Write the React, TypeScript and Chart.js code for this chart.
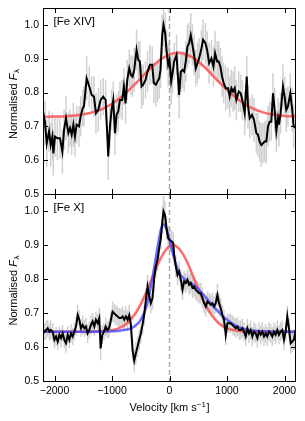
import React, { useEffect, useRef } from "react";
import { Chart, registerables } from "chart.js";
Chart.register(...registerables);

const FONT = "'Liberation Sans', Arial, Helvetica, sans-serif";

// ---------- Top panel: [Fe XIV] ----------
const V1 = [
  -2199, -2164, -2135, -2095, -2066, -2037, -2020, -1991, -1950, -1904,
  -1863, -1834, -1800, -1759, -1730, -1701, -1672, -1644, -1615, -1574,
  -1545, -1510, -1487, -1441, -1395, -1354, -1314, -1279, -1238, -1198,
  -1152, -1111, -1065, -1036, -1007, -978, -949, -920, -891, -862,
  -822, -793, -764, -735, -700, -671, -642, -613, -573, -544,
  -515, -486, -457, -417, -382, -341, -301, -272, -237, -208,
  -179, -156, -127, -104, -75, -52, -23, 0, 29, 52,
  81, 122, 145, 168, 197, 226, 255, 284, 312, 341,
  370, 399, 428, 457, 486, 515, 556, 584, 625, 654,
  689, 729, 764, 793, 828, 856, 885, 914, 943, 978,
  1019, 1047, 1076, 1105, 1134, 1163, 1204, 1238, 1267, 1308,
  1343, 1366, 1395, 1435, 1470, 1510, 1539, 1568, 1597, 1626,
  1655, 1684, 1713, 1742, 1771, 1800, 1829, 1858, 1887, 1904,
  1933, 1973, 2002, 2031, 2060, 2101, 2135, 2159, 2193,
];
const F1 = [
  0.744, 0.71, 0.65, 0.685, 0.645, 0.67, 0.62, 0.67, 0.665, 0.665,
  0.625, 0.69, 0.724, 0.68, 0.695, 0.675, 0.705, 0.67, 0.705, 0.7,
  0.73, 0.754, 0.76, 0.842, 0.818, 0.793, 0.788, 0.739, 0.749, 0.778,
  0.788, 0.778, 0.611, 0.7, 0.749, 0.778, 0.68, 0.734, 0.744, 0.778,
  0.778, 0.818, 0.768, 0.837, 0.872, 0.852, 0.847, 0.867, 0.926, 0.897,
  0.892, 0.818, 0.823, 0.837, 0.862, 0.882, 0.882, 0.828, 0.823, 0.833,
  0.842, 0.867, 0.97, 1.0, 0.975, 0.926, 0.882, 0.897, 0.833, 0.857,
  0.892, 0.911, 0.852, 0.793, 0.862, 0.867, 0.862, 0.892, 0.936, 0.946,
  0.97, 0.941, 0.911, 0.872, 0.887, 0.901, 0.931, 0.956, 0.946, 0.926,
  0.887, 0.901, 0.877, 0.916, 0.892, 0.892, 0.877, 0.847, 0.828, 0.813,
  0.813, 0.788, 0.813, 0.803, 0.813, 0.778, 0.803, 0.798, 0.778, 0.739,
  0.847, 0.759, 0.724, 0.734, 0.719, 0.68, 0.675, 0.655, 0.645, 0.65,
  0.655, 0.655, 0.7, 0.714, 0.714, 0.798, 0.749, 0.685, 0.724, 0.705,
  0.739, 0.818, 0.788, 0.749, 0.759, 0.798, 0.749, 0.7, 0.695,
];
const E1 = [
  0.06, 0.065, 0.07, 0.06, 0.065, 0.07, 0.065, 0.06, 0.065, 0.06,
  0.065, 0.06, 0.065, 0.06, 0.055, 0.06, 0.065, 0.06, 0.055, 0.06,
  0.06, 0.055, 0.06, 0.065, 0.06, 0.055, 0.06, 0.06, 0.065, 0.06,
  0.055, 0.06, 0.07, 0.065, 0.06, 0.055, 0.065, 0.06, 0.06, 0.055,
  0.06, 0.055, 0.06, 0.06, 0.055, 0.06, 0.06, 0.065, 0.06, 0.055,
  0.06, 0.065, 0.06, 0.055, 0.06, 0.06, 0.055, 0.06, 0.065, 0.06,
  0.06, 0.055, 0.06, 0.065, 0.06, 0.06, 0.065, 0.06, 0.07, 0.06,
  0.055, 0.06, 0.065, 0.07, 0.06, 0.055, 0.06, 0.06, 0.065, 0.06,
  0.065, 0.06, 0.06, 0.055, 0.06, 0.06, 0.055, 0.06, 0.06, 0.055,
  0.06, 0.055, 0.06, 0.065, 0.06, 0.06, 0.055, 0.06, 0.06, 0.065,
  0.06, 0.06, 0.055, 0.06, 0.065, 0.06, 0.06, 0.055, 0.06, 0.065,
  0.06, 0.065, 0.06, 0.06, 0.065, 0.06, 0.065, 0.06, 0.065, 0.06,
  0.06, 0.065, 0.06, 0.06, 0.055, 0.06, 0.065, 0.06, 0.06, 0.065,
  0.06, 0.065, 0.06, 0.065, 0.06, 0.06, 0.065, 0.065, 0.065,
];
const RED1_V = [-2200, -2000, -1800, -1600, -1400, -1200, -1000, -800, -600, -400, -200, 0, 150, 200, 400, 600, 800, 1000, 1200, 1400, 1600, 1800, 2000, 2200];
const RED1_F = [0.728, 0.729, 0.73, 0.733, 0.739, 0.749, 0.767, 0.792, 0.825, 0.86, 0.892, 0.913, 0.918, 0.917, 0.904, 0.877, 0.842, 0.808, 0.779, 0.757, 0.743, 0.735, 0.731, 0.729];

// ---------- Bottom panel: [Fe X] ----------
const V2 = [
  -2199, -2176, -2147, -2118, -2089, -2066, -2031, -2002, -1973, -1944,
  -1915, -1887, -1858, -1829, -1800, -1771, -1742, -1713, -1684, -1655,
  -1626, -1597, -1568, -1539, -1510, -1481, -1453, -1424, -1395, -1366,
  -1337, -1308, -1279, -1250, -1221, -1198, -1169, -1140, -1111, -1082,
  -1053, -1024, -990, -961, -932, -903, -874, -845, -816, -787,
  -758, -729, -700, -671, -642, -613, -584, -556, -527, -498,
  -469, -440, -411, -382, -353, -324, -295, -266, -237, -208,
  -179, -150, -122, -104, -81, -52, -23, 6, 35, 64,
  81, 110, 139, 168, 197, 226, 255, 284, 313, 341,
  370, 399, 428, 457, 486, 515, 544, 573, 602, 631,
  660, 689, 718, 747, 775, 804, 833, 862, 891, 920,
  949, 978, 1007, 1036, 1065, 1094, 1123, 1152, 1181, 1209,
  1238, 1267, 1296, 1325, 1354, 1383, 1412, 1441, 1470, 1499,
  1528, 1557, 1586, 1615, 1644, 1673, 1701, 1730, 1759, 1788,
  1817, 1846, 1875, 1904, 1933, 1962, 1991, 2020, 2049, 2078,
  2107, 2135, 2164, 2193,
];
const F2 = [
  0.64, 0.645, 0.65, 0.655, 0.645, 0.65, 0.645, 0.621, 0.631, 0.616,
  0.636, 0.626, 0.64, 0.621, 0.611, 0.636, 0.621, 0.64, 0.631, 0.645,
  0.66, 0.694, 0.68, 0.655, 0.665, 0.655, 0.66, 0.64, 0.65, 0.665,
  0.675, 0.66, 0.68, 0.67, 0.685, 0.596, 0.636, 0.645, 0.66, 0.65,
  0.655, 0.675, 0.704, 0.699, 0.694, 0.69, 0.685, 0.685, 0.69, 0.68,
  0.69, 0.68, 0.694, 0.665, 0.591, 0.56, 0.582, 0.601, 0.621, 0.64,
  0.665, 0.694, 0.739, 0.778, 0.749, 0.729, 0.744, 0.803, 0.837, 0.857,
  0.891, 0.92, 0.974, 0.999, 0.99, 0.95, 0.92, 0.915, 0.911, 0.906,
  0.871, 0.837, 0.812, 0.822, 0.798, 0.768, 0.793, 0.788, 0.798, 0.783,
  0.788, 0.774, 0.778, 0.768, 0.763, 0.758, 0.758, 0.744, 0.729, 0.719,
  0.734, 0.729, 0.724, 0.729, 0.719, 0.729, 0.753, 0.729, 0.714, 0.694,
  0.68, 0.636, 0.67, 0.67, 0.67, 0.665, 0.66, 0.655, 0.66, 0.65,
  0.65, 0.655, 0.645, 0.631, 0.655, 0.64, 0.65, 0.631, 0.645, 0.64,
  0.626, 0.645, 0.636, 0.645, 0.631, 0.64, 0.631, 0.645, 0.64, 0.631,
  0.645, 0.636, 0.65, 0.636, 0.645, 0.65, 0.621, 0.645, 0.69, 0.655,
  0.611, 0.616, 0.621, 0.65,
];
const E2 = [
  0.025, 0.025, 0.028, 0.025, 0.025, 0.028, 0.025, 0.025, 0.028, 0.025,
  0.025, 0.028, 0.025, 0.025, 0.028, 0.025, 0.025, 0.028, 0.025, 0.025,
  0.028, 0.03, 0.028, 0.025, 0.028, 0.025, 0.025, 0.028, 0.025, 0.028,
  0.025, 0.028, 0.025, 0.028, 0.03, 0.035, 0.028, 0.025, 0.028, 0.025,
  0.028, 0.028, 0.03, 0.028, 0.03, 0.028, 0.03, 0.028, 0.03, 0.028,
  0.03, 0.028, 0.03, 0.03, 0.033, 0.035, 0.033, 0.03, 0.03, 0.03,
  0.03, 0.03, 0.033, 0.033, 0.033, 0.03, 0.033, 0.035, 0.035, 0.035,
  0.035, 0.035, 0.04, 0.045, 0.04, 0.035, 0.035, 0.035, 0.033, 0.033,
  0.033, 0.033, 0.03, 0.03, 0.03, 0.03, 0.03, 0.03, 0.03, 0.03,
  0.03, 0.03, 0.03, 0.03, 0.03, 0.03, 0.03, 0.03, 0.03, 0.03,
  0.03, 0.03, 0.03, 0.03, 0.03, 0.03, 0.033, 0.03, 0.03, 0.03,
  0.03, 0.03, 0.028, 0.028, 0.028, 0.028, 0.028, 0.028, 0.028, 0.028,
  0.028, 0.028, 0.028, 0.028, 0.028, 0.028, 0.028, 0.028, 0.028, 0.028,
  0.028, 0.028, 0.028, 0.028, 0.028, 0.028, 0.028, 0.028, 0.028, 0.028,
  0.028, 0.028, 0.028, 0.028, 0.028, 0.028, 0.03, 0.028, 0.03, 0.028,
  0.03, 0.03, 0.03, 0.03,
];
const RED2_V = [-2200, -1400, -1200, -1000, -900, -800, -700, -600, -500, -400, -300, -200, -100, 0, 60, 100, 200, 300, 400, 500, 600, 700, 800, 900, 1000, 1200, 1400, 2200];
const RED2_F = [0.645, 0.645, 0.646, 0.649, 0.654, 0.662, 0.676, 0.697, 0.726, 0.763, 0.804, 0.844, 0.877, 0.897, 0.9, 0.898, 0.882, 0.852, 0.812, 0.771, 0.733, 0.702, 0.68, 0.664, 0.655, 0.647, 0.645, 0.645];
const BLUE2_V = [-2200, -1400, -1000, -800, -700, -600, -500, -400, -300, -200, -150, -100, -50, 0, 50, 100, 150, 200, 300, 400, 500, 600, 700, 800, 900, 1000, 1100, 1200, 1300, 1400, 1600, 1800, 2200];
const BLUE2_F = [0.645, 0.645, 0.646, 0.65, 0.653, 0.662, 0.68, 0.72, 0.8, 0.9, 0.945, 0.96, 0.945, 0.915, 0.88, 0.85, 0.825, 0.81, 0.795, 0.785, 0.77, 0.752, 0.732, 0.713, 0.695, 0.68, 0.668, 0.659, 0.653, 0.649, 0.646, 0.645, 0.645];

const X_MIN = -2200;
const X_MAX = 2200;
const Y_MIN = 0.5;
const Y_MAX = 1.05;
const X_TICKS = [-2000, -1000, 0, 1000, 2000];
const Y_TICKS = [0.5, 0.6, 0.7, 0.8, 0.9, 1.0];

const LABEL_TOP = "[Fe XIV]";
const LABEL_BOTTOM = "[Fe X]";

function pts(v: number[], f: number[]) {
  return v.map((x, i) => ({ x, y: f[i] }));
}

function fmtX(v: number) {
  return v < 0 ? "\u2212" + Math.abs(v) : String(v);
}

function makePlugin(label: string, errV: number[], errF: number[], errE: number[], xTitle: boolean) {
  return {
    id: "panelDecor",
    beforeDatasetsDraw(chart: any) {
      const { ctx, chartArea: a, scales } = chart;
      const xs = scales.x;
      const ys = scales.y;
      ctx.save();
      ctx.beginPath();
      ctx.rect(a.left, a.top, a.right - a.left, a.bottom - a.top);
      ctx.clip();
      ctx.strokeStyle = "#d0d0d0";
      ctx.lineWidth = 1.5;
      for (let i = 0; i < errV.length; i++) {
        const px = xs.getPixelForValue(errV[i]);
        const y1 = ys.getPixelForValue(errF[i] - errE[i]);
        const y2 = ys.getPixelForValue(errF[i] + errE[i]);
        ctx.beginPath();
        ctx.moveTo(px, y1);
        ctx.lineTo(px, y2);
        ctx.stroke();
      }
      const zx = xs.getPixelForValue(0);
      ctx.strokeStyle = "#a8a8a8";
      ctx.lineWidth = 1.4;
      ctx.setLineDash([5, 3]);
      ctx.beginPath();
      ctx.moveTo(zx, a.top);
      ctx.lineTo(zx, a.bottom);
      ctx.stroke();
      ctx.restore();
    },
    afterDraw(chart: any) {
      const { ctx, chartArea: a, scales } = chart;
      const xs = scales.x;
      const ys = scales.y;
      ctx.save();
      ctx.strokeStyle = "#000";
      ctx.lineWidth = 1;
      ctx.strokeRect(a.left + 0.5, a.top + 0.5, a.right - a.left - 1, a.bottom - a.top);
      const tl = 5;
      ctx.beginPath();
      for (const t of xs.ticks) {
        const px = Math.round(xs.getPixelForValue(t.value)) + 0.5;
        ctx.moveTo(px, a.bottom);
        ctx.lineTo(px, a.bottom - tl);
        ctx.moveTo(px, a.top);
        ctx.lineTo(px, a.top + tl);
      }
      for (const t of ys.ticks) {
        const py = Math.round(ys.getPixelForValue(t.value)) + 0.5;
        ctx.moveTo(a.left, py);
        ctx.lineTo(a.left + tl, py);
        ctx.moveTo(a.right, py);
        ctx.lineTo(a.right - tl, py);
      }
      ctx.stroke();

      // panel label
      ctx.fillStyle = "#000";
      ctx.font = `11.5px ${FONT}`;
      ctx.textAlign = "left";
      ctx.textBaseline = "middle";
      ctx.fillText(label, a.left + 10.5, a.top + 14);

      // y title: Normalised F_lambda
      const cy = (a.top + a.bottom) / 2 + 3;
      const cx = a.left - 30.5;
      ctx.translate(cx, cy);
      ctx.rotate(-Math.PI / 2);
      const f1 = `11px ${FONT}`;
      const f2 = `italic 11px ${FONT}`;
      const f3 = `8px ${FONT}`;
      ctx.font = f1;
      const w1 = ctx.measureText("Normalised ").width;
      ctx.font = f2;
      const w2 = ctx.measureText("F").width;
      ctx.font = f3;
      const w3 = ctx.measureText("\u03bb").width;
      let sx = -(w1 + w2 + w3 + 0.5) / 2;
      ctx.textAlign = "left";
      ctx.textBaseline = "alphabetic";
      ctx.font = f1;
      ctx.fillText("Normalised ", sx, 4);
      sx += w1;
      ctx.font = f2;
      ctx.fillText("F", sx, 4);
      sx += w2 + 0.5;
      ctx.font = f3;
      ctx.fillText("\u03bb", sx, 6.5);
      ctx.setTransform(1, 0, 0, 1, 0, 0);

      if (xTitle) {
        const g1 = `11px ${FONT}`;
        const g2 = `8px ${FONT}`;
        ctx.font = g1;
        const a1 = ctx.measureText("Velocity [km s").width;
        const a3 = ctx.measureText("]").width;
        ctx.font = g2;
        const a2 = ctx.measureText("\u22121").width;
        const mid = (a.left + a.right) / 2;
        let x0 = mid - (a1 + a2 + a3 + 0.5) / 2;
        const by = a.bottom + 30;
        ctx.textAlign = "left";
        ctx.textBaseline = "alphabetic";
        ctx.font = g1;
        ctx.fillText("Velocity [km s", x0, by);
        x0 += a1;
        ctx.font = g2;
        ctx.fillText("\u22121", x0, by - 4.5);
        x0 += a2 + 0.5;
        ctx.font = g1;
        ctx.fillText("]", x0, by);
      }
      ctx.restore();
    },
  };
}

function baseOptions(top: boolean, canvasH: number, plotBottom: number) {
  return {
    animation: false,
    responsive: false,
    devicePixelRatio: 1,
    layout: { autoPadding: false, padding: { top: top ? 8 : 0, right: 9, left: 0, bottom: 0 } },
    plugins: { legend: { display: false }, tooltip: { enabled: false } },
    elements: { point: { radius: 0 } },
    scales: {
      x: {
        type: "linear",
        min: X_MIN,
        max: X_MAX,
        grid: { display: false, drawTicks: false },
        border: { display: false },
        ticks: {
          display: !top,
          autoSkip: false,
          padding: 4,
          color: "#000",
          maxRotation: 0,
          font: { size: 10.5, family: FONT },
          callback: (v: any) => fmtX(Number(v)),
        },
        afterBuildTicks: (s: any) => {
          s.ticks = X_TICKS.map((v) => ({ value: v }));
        },
        afterFit: (s: any) => {
          s.height = canvasH - plotBottom;
          s.paddingLeft = 0;
          s.paddingRight = 0;
          s.paddingTop = 0;
          s.paddingBottom = 0;
        },
      },
      y: {
        min: Y_MIN,
        max: Y_MAX,
        grid: { display: false, drawTicks: false },
        border: { display: false },
        ticks: {
          autoSkip: false,
          padding: 4,
          color: "#000",
          font: { size: 10.5, family: FONT },
          callback: (v: any) => Number(v).toFixed(1),
        },
        afterBuildTicks: (s: any) => {
          s.ticks = Y_TICKS.map((v) => ({ value: v }));
        },
        afterFit: (s: any) => {
          s.width = 43;
          s.paddingLeft = 0;
          s.paddingRight = 0;
          s.paddingTop = 0;
          s.paddingBottom = 0;
        },
      },
    },
  };
}

export default function App() {
  const topRef = useRef<HTMLCanvasElement>(null);
  const botRef = useRef<HTMLCanvasElement>(null);

  useEffect(() => {
    const topH = 206;
    const botH = 227;
    const c1 = new Chart(topRef.current as HTMLCanvasElement, {
      type: "line",
      data: {
        datasets: [
          { data: pts(V1, F1), borderColor: "#000", borderWidth: 2, tension: 0, pointRadius: 0 },
          { data: pts(RED1_V, RED1_F), borderColor: "rgba(255,80,80,0.85)", borderWidth: 2.5, cubicInterpolationMode: "monotone", pointRadius: 0 },
        ],
      } as any,
      options: baseOptions(true, topH, 194) as any,
      plugins: [makePlugin(LABEL_TOP, V1, F1, E1, false)],
    });
    const c2 = new Chart(botRef.current as HTMLCanvasElement, {
      type: "line",
      data: {
        datasets: [
          { data: pts(V2, F2), borderColor: "#000", borderWidth: 2, tension: 0, pointRadius: 0 },
          { data: pts(BLUE2_V, BLUE2_F), borderColor: "rgba(70,70,255,0.8)", borderWidth: 2.5, cubicInterpolationMode: "monotone", pointRadius: 0 },
          { data: pts(RED2_V, RED2_F), borderColor: "rgba(255,80,80,0.85)", borderWidth: 2.5, cubicInterpolationMode: "monotone", pointRadius: 0 },
        ],
      } as any,
      options: baseOptions(false, botH, 187) as any,
      plugins: [makePlugin(LABEL_BOTTOM, V2, F2, E2, true)],
    });
    return () => {
      c1.destroy();
      c2.destroy();
    };
  }, []);

  return (
    <div style={{ position: "absolute", left: 0, top: 0, width: 305, height: 421, background: "#fff" }}>
      <canvas ref={topRef} width={305} height={206} style={{ position: "absolute", left: 0, top: 0, width: 305, height: 206 }} />
      <canvas ref={botRef} width={305} height={227} style={{ position: "absolute", left: 0, top: 194, width: 305, height: 227 }} />
    </div>
  );
}
